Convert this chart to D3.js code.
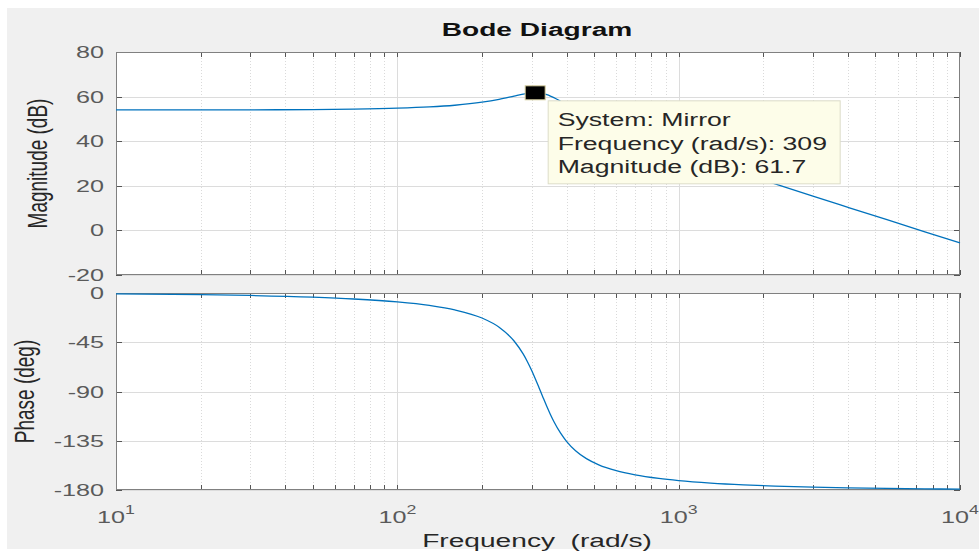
<!DOCTYPE html>
<html>
<head>
<meta charset="utf-8">
<script src="https://cdn.jsdelivr.net/npm/d3@7"></script>
<style>
  body { margin: 0; background: #fff; }
  svg { display: block; font-family: "Liberation Sans", Arial, sans-serif; }
  .tick line { shape-rendering: crispEdges; }
</style>
</head>
<body>
<div id="body"></div>
<script>
var W = 979, H = 552;
var SX = 1.48; // the picture is stretched sideways, so is the text

// Frequency response
var freq = [10, 20, 30, 50, 70, 100, 130, 160, 200, 230, 260, 280, 290, 300, 309, 320, 330, 340, 350, 360,
            380, 400, 430, 470, 520, 600, 700, 850, 1000, 1300, 1700, 2200, 3000, 4000, 5500, 7500, 10000];
var magDb = [54.01, 54.03, 54.07, 54.19, 54.38, 54.79, 55.36, 56.13, 57.49, 58.78, 60.23, 61.11, 61.45, 61.67, 61.73,
             61.61, 61.30, 60.84, 60.24, 59.56, 57.93, 56.45, 54.41, 51.90, 49.24, 45.80, 42.39, 38.40, 35.23,
             30.31, 25.44, 20.84, 15.37, 10.34, 4.78, -0.62, -5.62];
var phaseDeg = [-0.75, -1.50, -2.25, -3.81, -5.46, -8.18, -11.40, -15.41, -22.87, -31.25, -43.84, -55.68, -62.79,
                -70.60, -78.08, -87.46, -95.83, -103.73, -110.94, -117.36, -127.86, -135.73, -144.09, -151.32,
                -156.98, -162.34, -166.17, -169.43, -171.39, -173.65, -175.27, -176.39, -177.38, -178.04,
                -178.58, -178.96, -179.22];

var magTicks = [-20, 0, 20, 40, 60, 80];
var phaseTicks = [-180, -135, -90, -45, 0];
var decades = [10, 100, 1000, 10000];
var decadeExp = ["1", "2", "3", "4"];

var peak = { freq: 309, mag: 61.7 };
var tipLines = ["System: Mirror", "Frequency (rad/s): 309", "Magnitude (dB): 61.7"];

var minorX = [];
decades.slice(0, 3).forEach(function(d) {
  for (var k = 2; k <= 9; k++) minorX.push(d * k);
});

var left = 116, right = 960;
var x = d3.scaleLog().domain([10, 10000]).range([left, right]);
var yMag = d3.scaleLinear().domain([-20, 80]).range([275, 52]);
var yPh = d3.scaleLinear().domain([-180, 0]).range([490, 293]);

var svg = d3.select("#body").append("svg")
    .attr("width", W).attr("height", H);

svg.append("rect").attr("width", W).attr("height", H).attr("fill", "#fff");
svg.append("rect").attr("x", 7).attr("y", 8).attr("width", W - 7).attr("height", 541).attr("fill", "#f0f0f0");

// Stretched text helper
function stext(g, px, py, str) {
  return g.append("text")
      .attr("transform", "translate(" + px + "," + py + ") scale(" + SX + ",1)")
      .text(str);
}

function panel(y, ticks) {
  var r = y.range();
  var g = svg.append("g");
  g.append("rect")
      .attr("x", left).attr("y", r[1])
      .attr("width", right - left).attr("height", r[0] - r[1])
      .attr("fill", "#fff");

  // minor grid
  g.selectAll("line.minor").data(minorX).enter().append("line")
      .attr("class", "minor")
      .attr("x1", function(d) { return Math.round(x(d)) + 0.5; })
      .attr("x2", function(d) { return Math.round(x(d)) + 0.5; })
      .attr("y1", r[1]).attr("y2", r[0])
      .attr("stroke", "#dadada").attr("stroke-dasharray", "1,2");

  // major grid
  g.selectAll("line.vmaj").data(decades.slice(1, 3)).enter().append("line")
      .attr("x1", function(d) { return Math.round(x(d)) + 0.5; })
      .attr("x2", function(d) { return Math.round(x(d)) + 0.5; })
      .attr("y1", r[1]).attr("y2", r[0])
      .attr("stroke", "#dcdcdc");
  g.selectAll("line.hmaj").data(ticks).enter().append("line")
      .attr("x1", left).attr("x2", right)
      .attr("y1", function(d) { return Math.round(y(d)) + 0.5; })
      .attr("y2", function(d) { return Math.round(y(d)) + 0.5; })
      .attr("stroke", "#dcdcdc");

  // inner ticks on all four sides
  var ax = d3.axisLeft(y).tickValues(ticks).tickSize(-6).tickFormat("");
  g.append("g").attr("transform", "translate(" + left + ",0)").call(ax);
  g.append("g").attr("transform", "translate(" + right + ",0)")
      .call(d3.axisRight(y).tickValues(ticks).tickSize(-6).tickFormat(""));
  var xt = decades.concat(minorX);
  g.append("g").attr("transform", "translate(0," + r[0] + ")")
      .call(d3.axisBottom(x).tickValues(xt).tickSize(-5).tickFormat(""));
  g.append("g").attr("transform", "translate(0," + r[1] + ")")
      .call(d3.axisTop(x).tickValues(xt).tickSize(-5).tickFormat(""));
  g.selectAll(".domain").remove();
  g.selectAll(".tick line").attr("stroke", "#555");

  g.append("rect")
      .attr("x", left + 0.5).attr("y", r[1] + 0.5)
      .attr("width", right - left - 1).attr("height", r[0] - r[1] - 1)
      .attr("fill", "none").attr("stroke", "#808080");

  // y tick labels
  ticks.forEach(function(t) {
    stext(g, left - 12, y(t) + 6, t === 0 ? "0" : String(t).replace("-", "-"))
        .attr("text-anchor", "end")
        .attr("font-size", 17)
        .attr("fill", "#5a5a5a");
  });
  return g;
}

var gMag = panel(yMag, magTicks);
var gPh = panel(yPh, phaseTicks);

var line = function(y, vals) {
  return d3.line()
      .x(function(d, i) { return x(freq[i]); })
      .y(function(d) { return y(d); })
      .curve(d3.curveMonotoneX)(vals);
};

gMag.append("path")
    .attr("d", line(yMag, magDb))
    .attr("fill", "none").attr("stroke", "#0072BD").attr("stroke-width", 1.3);
gPh.append("path")
    .attr("d", line(yPh, phaseDeg))
    .attr("fill", "none").attr("stroke", "#0072BD").attr("stroke-width", 1.3);

// x tick labels 10^n
decades.forEach(function(d, i) {
  var t = svg.append("text")
      .attr("transform", "translate(" + x(d) + ",523) scale(" + SX + ",1)")
      .attr("text-anchor", "middle")
      .attr("fill", "#5a5a5a")
      .attr("font-size", 17);
  t.append("tspan").text("10");
  t.append("tspan").attr("dy", -9).attr("font-size", 12).text(decadeExp[i]);
});

// Titles and axis labels
stext(svg, 537, 36, "Bode Diagram")
    .attr("text-anchor", "middle").attr("font-weight", "bold")
    .attr("font-size", 19).attr("fill", "#111");
stext(svg, 537, 547, "Frequency\u00a0\u00a0(rad/s)")
    .attr("text-anchor", "middle").attr("font-size", 19).attr("fill", "#262626");

svg.append("text")
    .attr("transform", "translate(47," + (yMag(30)) + ") scale(" + SX + ",1) rotate(-90)")
    .attr("text-anchor", "middle").attr("font-size", 19).attr("fill", "#262626")
    .text("Magnitude (dB)");
svg.append("text")
    .attr("transform", "translate(34," + (yPh(-90)) + ") scale(" + SX + ",1) rotate(-90)")
    .attr("text-anchor", "middle").attr("font-size", 19).attr("fill", "#262626")
    .text("Phase (deg)");

// Data tip
var px = x(peak.freq), py = yMag(peak.mag);
svg.append("rect")
    .attr("x", px - 10).attr("y", py - 7)
    .attr("width", 20).attr("height", 14)
    .attr("fill", "#000").attr("stroke", "#d8d0a0").attr("stroke-width", 1);

var tip = svg.append("g").attr("transform", "translate(" + (px + 12.5) + "," + (py + 7.5) + ")");
tip.append("rect")
    .attr("x", 0.5).attr("y", 0.5).attr("width", 292).attr("height", 83)
    .attr("fill", "#fdfde9").attr("stroke", "#dcdcc8");
tipLines.forEach(function(s, i) {
  stext(tip, 10, 26 + i * 23.5, s)
      .attr("font-size", 18).attr("fill", "#262626");
});
</script>
</body>
</html>
